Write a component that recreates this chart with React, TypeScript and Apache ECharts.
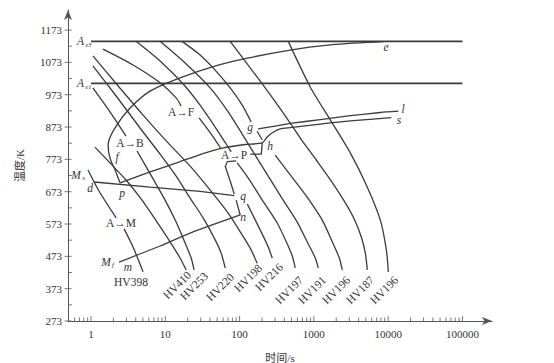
import React, { useEffect, useRef } from 'react';
import * as echarts from 'echarts';

type Pt = [number, number] | null;

// ---- axis ticks (time in s, temperature in K) ----
const timeMajorTicks = [1, 10, 100, 1000, 10000, 100000];
const timeMinorTicks = [
  0.6, 0.7, 0.8, 0.9,
  2, 3, 4, 5, 6, 7, 8, 9,
  20, 30, 40, 50, 60, 70, 80, 90,
  200, 300, 400, 500, 600, 700, 800, 900,
  2000, 3000, 4000, 5000, 6000, 7000, 8000, 9000,
  20000, 30000, 40000, 50000, 60000, 70000, 80000, 90000,
];
const tempMajorTicks = [273, 373, 473, 573, 673, 773, 873, 973, 1073, 1173];
const tempMinorTicks = [323, 423, 523, 623, 723, 823, 923, 1023, 1123];

// ---- critical temperatures ----
const ae3Line: Pt[] = [[1, 1138], [100000, 1138]];
const ae1Line: Pt[] = [[1, 1008], [100000, 1008]];

// ---- cooling curves [time s, temperature K]; null = gap at a label ----
const hv398: Pt[] = [[0.911, 740], [1.28, 675], [2.18, 592], null, [2.79, 558], [3.68, 502], [5.02, 425]];
const hv410: Pt[] = [[1.13, 811], [1.8, 762], [2.96, 709], [4.86, 647], [7.75, 579], [11.6, 518], [15.8, 468], [19.1, 431]];
const hv253: Pt[] = [[1.06, 994], [1.8, 920], [2.96, 845], null, [4.17, 799], [6.64, 718], [9.94, 647], [14.0, 579], [18.5, 514], [22.3, 468], [24.4, 431]];
const hv220: Pt[] = [[1.06, 1062], [2.18, 969], [4.57, 870], [8.51, 789], [14.0, 721], [21.6, 653], [32.3, 592], [45.5, 530], [56.5, 483], [64.0, 437]];
const hv198: Pt[] = [[1.06, 1093], [2.32, 1000], [5.02, 910], [10.6, 827], [21.6, 752], [40.2, 678], [70.2, 607], [108.5, 539], [143, 493], [172, 452]];
const hv216: Pt[] = [[1.45, 1114], [3.68, 1065], [8.25, 1012], [14.0, 963], [16.3, 938], null, [28.5, 901], [41.5, 851], [56.5, 805], null, [64.0, 752], [74.7, 706], [84.6, 666], null, [127, 635], [190, 554], [243, 502], [275, 468]];
const hv197: Pt[] = [[4.04, 1138], [8.51, 1077], [17.4, 1006], [29.4, 941], [44.1, 882], [62.0, 830], [77.1, 796], null, [92.8, 762], [131, 715], [202, 647], [321, 576], [425, 518], [512, 474], [561, 437]];
const hv191: Pt[] = [[8.51, 1138], [19.1, 1068], [40.2, 994], [70.2, 920], [108.5, 851], [162, 786], [243, 721], [386, 647], [597, 579], [812, 518], [1044, 468], [1146, 437]];
const hv196a: Pt[] = [[16.8, 1138], [29.4, 1096], [46.9, 1049], [74.7, 994], [108.5, 941], [143, 889], null, [172, 860], [202, 833], null, [302, 786], [481, 725], [790, 660], [1297, 585], [1825, 511], [2200, 468], [2414, 431]];
const hv187: Pt[] = [[74.7, 1138], [172, 1028], [386, 917], [656, 839], [1077, 771], [1715, 706], [2568, 644], [3503, 588], [4353, 533], [4928, 483], [5243, 431]];
const hv196b: Pt[] = [[452, 1138], [894, 997], [1663, 895], [3094, 793], [5243, 687], [7850, 585], [9455, 493], [10060, 425]];

const coolingCurves = [hv398, hv410, hv253, hv220, hv198, hv216, hv197, hv191, hv196a, hv187, hv196b];
const hardnessLabels = ['HV398', 'HV410', 'HV253', 'HV220', 'HV198', 'HV216', 'HV197', 'HV191', 'HV196', 'HV187', 'HV196'];

// ---- transformation lines ----
const ferriteStart: Pt[] = [[8615, 1137], [1663, 1127], [481, 1111], [127, 1086], [44.1, 1060], [15.8, 1025], [6.24, 984], [3.36, 932], [2.18, 876], [1.7, 817], [1.8, 777], [2.11, 740], [2.46, 700]];
const pearliteStart: Pt[] = [[2.46, 700], [6.24, 734], [15.8, 766], [35.5, 794], [58.3, 808], [119, 819], [202, 824], [235, 842], [283, 857], [352, 867], [481, 871], [1219, 882], [3094, 892], [11040, 902]];
const glLine: Pt[] = [[178, 867], [302, 876], [481, 884], [1219, 896], [3094, 908], [7850, 918], [13720, 922]];
const finishLine: Pt[] = [[202, 824], [196, 789], [139, 789], null, [89.9, 768], [68.1, 766], [64.0, 749]];
const msLine: Pt[] = [[1.1, 703], [6.24, 687], [29.4, 674], [84.6, 661]];
const qnLine: Pt[] = [[89.9, 647], [102, 601]];
const mfLine: Pt[] = [[2.39, 455], [8.51, 505], [21.6, 545], [102, 601]];

// ---- layout / style ----
const FONT = "'Liberation Serif','Times New Roman',serif";
const CJK = "'Liberation Serif','Noto Sans CJK SC',serif";
const INK = '#3b3b3b';
const AXIS = '#555';
const TEXT = '#333';

function segments(arr: Pt[]): [number, number][][] {
  const out: [number, number][][] = [];
  let cur: [number, number][] = [];
  for (const p of arr) {
    if (p === null) {
      if (cur.length) out.push(cur);
      cur = [];
    } else cur.push(p);
  }
  if (cur.length) out.push(cur);
  return out;
}

function lines(id: string, data: Pt[], width = 1.3, smooth: number | boolean = 0.25): any[] {
  return segments(data).map((seg, i) => ({
    type: 'line',
    id: id + '_' + i,
    data: seg,
    symbol: 'none',
    showSymbol: false,
    smooth,
    clip: false,
    silent: true,
    lineStyle: { color: INK, width },
    z: 3,
  }));
}

function tickSeries(data: [number, number][], size: [number, number], offset: [number, number]) {
  return {
    type: 'scatter',
    data,
    symbol: 'rect',
    symbolSize: size,
    symbolOffset: offset,
    itemStyle: { color: AXIS },
    silent: true,
    clip: false,
    z: 4,
  };
}

function txt(text: string, x: number, y: number, o: { italic?: boolean; size?: number; rot?: number } = {}) {
  return {
    type: 'text',
    x,
    y,
    rotation: o.rot || 0,
    silent: true,
    z: 10,
    style: {
      text,
      fill: TEXT,
      fontFamily: FONT,
      fontSize: o.size || 11.5,
      fontStyle: o.italic ? 'italic' : 'normal',
      align: 'center',
      verticalAlign: 'middle',
      textAlign: 'center',
      textVerticalAlign: 'middle',
    },
  };
}

const hvLabelPos: [number, number][] = [
  [131, 282], [177, 285], [194, 286], [220, 287], [248, 278], [269, 277],
  [289, 290], [312, 290], [336, 290], [360, 290], [384, 290],
];

export default function App() {
  const ref = useRef<HTMLDivElement>(null);
  useEffect(() => {
    if (!ref.current) return;
    const chart = echarts.init(ref.current, null, { renderer: 'svg' });

    const series: any[] = [];
    series.push(...lines('ae3', ae3Line, 1.8, false));
    series.push(...lines('ae1', ae1Line, 1.8, false));
    coolingCurves.forEach((c, i) => series.push(...lines('cool' + i, c, 1.3, 0.25)));
    series.push(...lines('fs', ferriteStart, 1.3, 0.35));
    series.push(...lines('ps', pearliteStart, 1.3, 0.2));
    series.push(...lines('gl', glLine, 1.3, 0.2));
    series.push(...lines('fin', finishLine, 1.3, false));
    series.push(...lines('ms', msLine, 1.3, false));
    series.push(...lines('qn', qnLine, 1.3, false));
    series.push(...lines('mf', mfLine, 1.3, 0.2));

    series.push(tickSeries(timeMajorTicks.map((t) => [t, 273] as [number, number]), [1, 5], [0, -2.5]));
    series.push(tickSeries(timeMinorTicks.map((t) => [t, 273] as [number, number]), [1, 3.5], [0, -1.75]));
    series.push(tickSeries(tempMajorTicks.map((v) => [0.49, v] as [number, number]), [7, 1], [0, 0]));
    series.push(tickSeries(tempMinorTicks.map((v) => [0.49, v] as [number, number]), [4, 1], [2, 0]));

    const graphics: any[] = [
      txt('A', 80.5, 41, { italic: true, size: 11.5 }),
      txt('e3', 88.5, 44, { italic: true, size: 6.5 }),
      txt('A', 80.5, 83, { italic: true, size: 11.5 }),
      txt('e1', 88.5, 86, { italic: true, size: 6.5 }),
      txt('M', 76, 175, { italic: true, size: 11.5 }),
      txt('s', 83.5, 178, { italic: true, size: 7 }),
      txt('M', 106, 262, { italic: true, size: 11.5 }),
      txt('f', 113, 265, { italic: true, size: 7 }),
      txt('A→F', 181, 112),
      txt('A→B', 130, 143),
      txt('A→P', 234, 155),
      txt('A→M', 121, 223),
      txt('d', 90, 188, { italic: true }),
      txt('p', 122, 193, { italic: true }),
      txt('f', 117, 157, { italic: true }),
      txt('m', 128, 267, { italic: true }),
      txt('q', 243, 196, { italic: true }),
      txt('n', 243, 217, { italic: true }),
      txt('g', 250, 127, { italic: true }),
      txt('h', 270, 146, { italic: true }),
      txt('e', 386, 47, { italic: true }),
      txt('l', 403, 109, { italic: true }),
      txt('s', 399, 120, { italic: true }),
    ];
    hardnessLabels.forEach((name, i) => {
      const [x, y] = hvLabelPos[i];
      graphics.push(txt(name, x, y, { rot: i === 0 ? 0 : Math.PI / 4 }));
    });

    const option: any = {
      animation: false,
      backgroundColor: '#fff',
      textStyle: { fontFamily: FONT },
      grid: { left: 68, top: 10, width: 424, height: 311, containLabel: false, outerBoundsMode: 'none' },
      xAxis: {
        type: 'log',
        logBase: 10,
        min: 0.49,
        max: 250000,
        name: '时间/s',
        nameLocation: 'middle',
        nameGap: 31,
        nameTextStyle: { fontFamily: CJK, fontSize: 11, color: TEXT },
        axisLine: {
          show: true,
          onZero: false,
          symbol: ['none', 'arrow'],
          symbolSize: [6, 10],
          lineStyle: { color: AXIS, width: 1 },
        },
        axisTick: { show: false },
        minorTick: { show: false },
        splitLine: { show: false },
        minorSplitLine: { show: false },
        axisLabel: {
          margin: 7,
          fontSize: 11,
          color: TEXT,
          fontFamily: FONT,
          showMinLabel: false,
          showMaxLabel: false,
          formatter: (v: number) => {
            const l = Math.log10(v);
            return Math.abs(l - Math.round(l)) < 1e-6 && l > -0.5 ? String(Math.round(v)) : '';
          },
        },
      },
      yAxis: {
        type: 'value',
        min: 273,
        max: 1235,
        interval: 100,
        name: '温度/K',
        nameLocation: 'middle',
        nameGap: 43,
        nameRotate: 90,
        nameTextStyle: { fontFamily: CJK, fontSize: 11, color: TEXT },
        axisLine: {
          show: true,
          onZero: false,
          symbol: ['none', 'arrow'],
          symbolSize: [6, 10],
          lineStyle: { color: AXIS, width: 1 },
        },
        axisTick: { show: false },
        splitLine: { show: false },
        axisLabel: {
          margin: 6,
          fontSize: 11,
          color: TEXT,
          fontFamily: FONT,
          showMaxLabel: false,
          formatter: (v: number) => (v <= 1173.5 ? String(Math.round(v)) : ''),
        },
      },
      series,
      graphic: { elements: graphics },
    };

    chart.setOption(option);
    return () => chart.dispose();
  }, []);

  return (
    <div
      ref={ref}
      style={{ position: 'fixed', left: 0, top: 0, width: 554, height: 363, background: '#fff' }}
    />
  );
}
